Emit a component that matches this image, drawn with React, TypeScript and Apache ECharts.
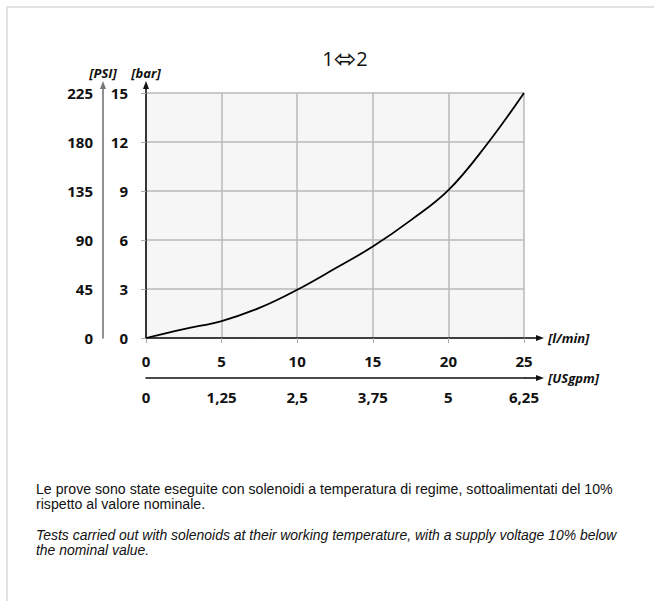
import React, { useEffect, useRef } from "react";
import * as echarts from "echarts";

// Data
const flowLmin = [0, 2.5, 5, 7.5, 10, 12.5, 15, 17.5, 20, 22.5, 25];
const pressureBar = [0, 0.55, 1.04, 1.84, 2.95, 4.25, 5.6, 7.2, 9.05, 11.8, 15];

const flowTicks = [0, 5, 10, 15, 20, 25];
const usgpmTicks = [0, 1.25, 2.5, 3.75, 5, 6.25];
const barTicks = [0, 3, 6, 9, 12, 15];
const psiTicks = [0, 45, 90, 135, 180, 225];

const titleFrom = "1";
const titleArrow = "\u2B04";
const titleTo = "2";
const footerIt =
  "Le prove sono state eseguite con solenoidi a temperatura di regime, sottoalimentati del 10%\nrispetto al valore nominale.";
const footerEn =
  "Tests carried out with solenoids at their working temperature, with a supply voltage 10% below\nthe nominal value.";

const W = 654;
const H = 601;
const GL = 146;
const GT = 93;
const GR = 524;
const GB = 338;
const PSI_X = 103;

const FONT = "'Open Sans', 'Noto Sans', 'DejaVu Sans', sans-serif";
const BODY = "'Liberation Sans', 'DejaVu Sans', sans-serif";

export default function App() {
  const ref = useRef<HTMLDivElement>(null);

  useEffect(() => {
    if (!ref.current) return;
    const chart = echarts.init(ref.current, undefined, { renderer: "svg" });
    const step = (a: number[]) => a[1] - a[0];
    const comma = (v: number) => String(v).replace(".", ",");
    const labelStyle = { fontFamily: FONT, fontWeight: "bold" as const, fontSize: 15, color: "#111" };
    const nameStyle = { fontFamily: FONT, fontWeight: "bold" as const, fontStyle: "italic" as const, fontSize: 13, color: "#111" };

    chart.setOption({
      animation: false,
      backgroundColor: "#fff",
      grid: {
        left: GL,
        top: GT,
        right: W - GR,
        bottom: H - GB,
        show: true,
        backgroundColor: "#f6f6f6",
        borderWidth: 0,
      },
      xAxis: [
        {
          type: "value",
          position: "bottom",
          min: flowTicks[0],
          max: flowTicks[flowTicks.length - 1],
          interval: step(flowTicks),
          axisLine: {
            show: true,
            lineStyle: { color: "#111", width: 1.6 },
            symbol: ["none", "triangle"],
            symbolSize: [6, 8],
            symbolOffset: [0, 16],
          },
          axisTick: { show: true, length: 5, lineStyle: { color: "#aaa" } },
          axisLabel: { ...labelStyle, margin: 15 },
          splitLine: { show: true, lineStyle: { color: "#b8b8b8", width: 1.5 } },
          name: "[l/min]",
          nameLocation: "end",
          nameGap: 24,
          nameTextStyle: { ...nameStyle, align: "left", verticalAlign: "middle" },
        },
        {
          type: "value",
          position: "bottom",
          offset: 40,
          min: usgpmTicks[0],
          max: usgpmTicks[usgpmTicks.length - 1],
          interval: step(usgpmTicks),
          axisLine: {
            show: true,
            onZero: false,
            lineStyle: { color: "#111", width: 1.6 },
            symbol: ["none", "triangle"],
            symbolSize: [6, 8],
            symbolOffset: [0, 16],
          },
          axisTick: { show: false },
          axisLabel: { ...labelStyle, margin: 11, formatter: (v: number) => comma(v) },
          splitLine: { show: false },
          name: "[USgpm]",
          nameLocation: "end",
          nameGap: 24,
          nameTextStyle: { ...nameStyle, align: "left", verticalAlign: "middle" },
        },
      ],
      yAxis: [
        {
          type: "value",
          position: "left",
          min: barTicks[0],
          max: barTicks[barTicks.length - 1],
          interval: step(barTicks),
          axisLine: {
            show: true,
            lineStyle: { color: "#111", width: 1.6 },
            symbol: ["none", "triangle"],
            symbolSize: [6, 8],
            symbolOffset: [0, 8],
          },
          axisTick: { show: true, length: 5, lineStyle: { color: "#aaa" } },
          axisLabel: { ...labelStyle, margin: 18 },
          splitLine: { show: true, lineStyle: { color: "#b8b8b8", width: 1.5 } },
          name: "[bar]",
          nameLocation: "end",
          nameGap: 14,
          nameTextStyle: { ...nameStyle, align: "center", verticalAlign: "bottom" },
        },
        {
          type: "value",
          position: "left",
          offset: GL - PSI_X,
          min: psiTicks[0],
          max: psiTicks[psiTicks.length - 1],
          interval: step(psiTicks),
          axisLine: {
            show: true,
            onZero: false,
            lineStyle: { color: "#777", width: 1.6 },
            symbol: ["none", "triangle"],
            symbolSize: [6, 8],
            symbolOffset: [0, 8],
          },
          axisTick: { show: false },
          axisLabel: { ...labelStyle, margin: 10 },
          splitLine: { show: false },
          name: "[PSI]",
          nameLocation: "end",
          nameGap: 14,
          nameTextStyle: { ...nameStyle, align: "center", verticalAlign: "bottom" },
        },
      ],
      series: [
        {
          type: "line",
          xAxisIndex: 0,
          yAxisIndex: 0,
          data: flowLmin.map((f, i) => [f, pressureBar[i]]),
          smooth: 0.4,
          showSymbol: false,
          lineStyle: { color: "#000", width: 1.8 },
          silent: true,
        },
      ],
      graphic: [
        { type: "rect", shape: { x: 6, y: 6, width: W - 6, height: 2 }, style: { fill: "#e2e2e2" } },
        { type: "rect", shape: { x: 6, y: 6, width: 2, height: H - 6 }, style: { fill: "#e2e2e2" } },
        // axis-line extensions toward the arrows
        { type: "line", shape: { x1: GR, y1: GB, x2: GR + 16, y2: GB }, style: { stroke: "#111", lineWidth: 1.6 } },
        { type: "line", shape: { x1: GR, y1: GB + 40, x2: GR + 16, y2: GB + 40 }, style: { stroke: "#111", lineWidth: 1.6 } },
        { type: "line", shape: { x1: GL, y1: GT, x2: GL, y2: GT - 8 }, style: { stroke: "#111", lineWidth: 1.6 } },
        { type: "line", shape: { x1: PSI_X, y1: GT, x2: PSI_X, y2: GT - 8 }, style: { stroke: "#777", lineWidth: 1.6 } },
        {
          type: "text",
          x: 345,
          y: 58,
          style: {
            text: `{n|${titleFrom}}{a|${titleArrow}}{n|${titleTo}}`,
            align: "center",
            verticalAlign: "middle",
            rich: {
              n: { fontFamily: FONT, fontSize: 20, fill: "#111", color: "#111" },
              a: { fontFamily: "'DejaVu Sans', 'Noto Sans CJK SC', sans-serif", fontSize: 27, color: "#111", fill: "#111" },
            },
          },
        },
        {
          type: "text",
          x: 36,
          y: 481,
          scaleX: 0.944,
          style: { text: footerIt, fontFamily: BODY, fontSize: 15, lineHeight: 15, fill: "#111", align: "left", verticalAlign: "top" },
        },
        {
          type: "text",
          x: 36,
          y: 527,
          scaleX: 0.93,
          style: { text: footerEn, fontFamily: BODY, fontStyle: "italic", fontSize: 15, lineHeight: 15, fill: "#111", align: "left", verticalAlign: "top" },
        },
      ],
    });

    return () => chart.dispose();
  }, []);

  return <div ref={ref} style={{ position: "fixed", left: 0, top: 0, width: W, height: H }} />;
}
